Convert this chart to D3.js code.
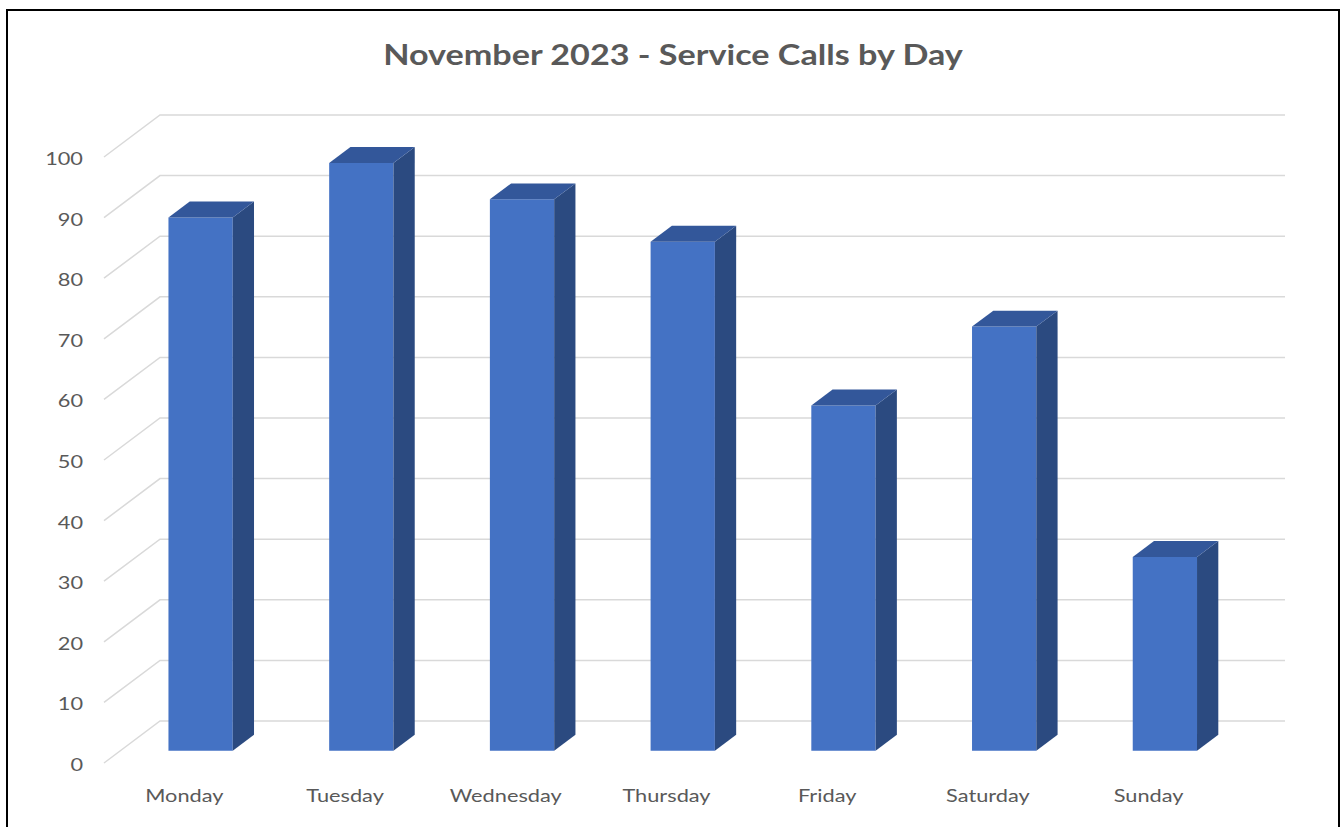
<!DOCTYPE html>
<html>
<head>
<meta charset="utf-8">
<script src="https://cdn.jsdelivr.net/npm/d3@7"></script>
<style>
  body { margin: 0; background: #fff; }
  svg { display: block; }
</style>
</head>
<body>
<div id="visual"></div>
<script>
var days = ['Monday', 'Tuesday', 'Wednesday', 'Thursday', 'Friday', 'Saturday', 'Sunday'];
var calls = [88, 97, 91, 84, 57, 70, 32];
var yTicks = [0, 10, 20, 30, 40, 50, 60, 70, 80, 90, 100];

var width = 1343, height = 827;

// 3D look: depth pushes things up and to the right
var depthX = 56, depthY = 42;
var barFront = 0.29, barBack = 0.67;
// the original text looks a bit stretched sideways
var stretch = 1.28;

var svg = d3.select('#visual')
    .append('svg')
    .attr('width', width)
    .attr('height', height);

svg.append('rect')
    .attr('x', 7).attr('y', 10)
    .attr('width', 1332).attr('height', 830)
    .attr('fill', '#fff')
    .attr('stroke', '#000')
    .attr('stroke-width', 2);

var x_scale = d3.scaleBand()
    .domain(days)
    .range([104, 1229]);

var y_scale = d3.scaleLinear()
    .domain([0, 100])
    .range([763, 157]);

function pt(x, v, d) {
    return [x + d * depthX, y_scale(v) - d * depthY];
}

// gridlines: diagonal on the side, then along the back wall
var grid = svg.append('g').attr('class', 'grid');
grid.selectAll('path')
    .data(yTicks)
    .enter().append('path')
    .attr('d', function (v) {
        return d3.line()([pt(104, v, 0), pt(104, v, 1), pt(1229, v, 1)]);
    })
    .attr('fill', 'none')
    .attr('stroke', '#d9d9d9')
    .attr('stroke-width', 1.5);

var y_axis = d3.axisLeft(y_scale)
    .tickValues(yTicks)
    .tickSize(0)
    .tickPadding(0);

svg.append('g')
    .attr('class', 'y axis')
    .attr('transform', 'translate(83,2)')
    .call(y_axis)
    .call(function (g) { g.select('.domain').remove(); })
    .selectAll('text')
    .attr('fill', '#595959')
    .attr('font-family', 'Lato, sans-serif')
    .attr('font-size', '17px')
    .attr('transform', 'scale(' + stretch + ',1)');

var x_axis = d3.axisBottom(x_scale).tickSize(0).tickPadding(0);
svg.append('g')
    .attr('class', 'x axis')
    .attr('transform', 'translate(0,790)')
    .call(x_axis)
    .call(function (g) { g.select('.domain').remove(); })
    .selectAll('text')
    .attr('fill', '#595959')
    .attr('font-family', 'Lato, sans-serif')
    .attr('font-size', '17px')
    .attr('transform', 'scale(' + stretch + ',1)');

var barW = x_scale.bandwidth() * 0.4;

var bars = svg.selectAll('.bar')
    .data(days.map(function (d, i) { return { day: d, value: calls[i] }; }))
    .enter().append('g')
    .attr('class', 'bar');

function barX(d) {
    return x_scale(d.day) + x_scale.bandwidth() / 2 - barW / 2;
}

// front face
bars.append('path')
    .attr('d', function (d) {
        var x0 = barX(d), x1 = x0 + barW;
        return d3.line()([pt(x0, 0, barFront), pt(x1, 0, barFront), pt(x1, d.value, barFront), pt(x0, d.value, barFront)]) + 'Z';
    })
    .attr('fill', '#4472c4');

// side face
bars.append('path')
    .attr('d', function (d) {
        var x1 = barX(d) + barW;
        return d3.line()([pt(x1, 0, barFront), pt(x1, 0, barBack), pt(x1, d.value, barBack), pt(x1, d.value, barFront)]) + 'Z';
    })
    .attr('fill', '#2b4a80');

// top face
bars.append('path')
    .attr('d', function (d) {
        var x0 = barX(d), x1 = x0 + barW;
        return d3.line()([pt(x0, d.value, barFront), pt(x1, d.value, barFront), pt(x1, d.value, barBack), pt(x0, d.value, barBack)]) + 'Z';
    })
    .attr('fill', '#33579a');

svg.append('text')
    .attr('transform', 'translate(673,65) scale(1.22,1)')
    .attr('text-anchor', 'middle')
    .attr('fill', '#595959')
    .attr('font-family', 'Lato, sans-serif')
    .attr('font-weight', 'bold')
    .attr('font-size', '28px')
    .text('November 2023 - Service Calls by Day');
</script>
</body>
</html>
